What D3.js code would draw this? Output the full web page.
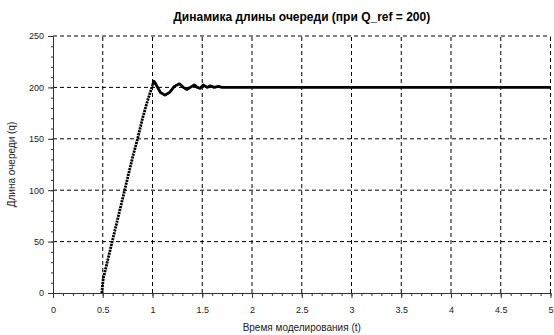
<!DOCTYPE html>
<html>
<head>
<meta charset="utf-8">
<script src="https://cdn.jsdelivr.net/npm/d3@7"></script>
<style>
  html, body { margin: 0; padding: 0; background: #fff; }
  svg { display: block; font-family: "Liberation Sans", Arial, sans-serif; }
</style>
</head>
<body>
<svg id="chart" width="554" height="335"></svg>
<script>
// Queue length q over simulation time t
const timeValues = [0.49, 0.505, 0.6, 0.7, 0.8, 0.85, 0.9, 0.95, 0.98, 1.0, 1.015, 1.04, 1.08, 1.125, 1.17, 1.22, 1.27, 1.31, 1.345, 1.38, 1.42, 1.45, 1.48, 1.51, 1.55, 1.58, 1.62, 1.66, 1.7, 5.0];
const queueValues = [0, 14, 52, 92, 132, 150, 170, 187, 196, 202, 206, 202, 195, 192.5, 195, 201, 203.5, 200, 198, 200, 202.5, 200, 199, 202.3, 200, 201.5, 200, 201, 200, 200];

const xTicks = [0, 0.5, 1, 1.5, 2, 2.5, 3, 3.5, 4, 4.5, 5];
const yTicks = [0, 50, 100, 150, 200, 250];
const titleText = "Динамика длины очереди (при Q_ref = 200)";
const xLabel = "Время моделирования (t)";
const yLabel = "Длина очереди (q)";

const svg = d3.select("#chart");
const plotLeft = 53, plotRight = 550.5, plotTop = 36, plotBottom = 293;

const x = d3.scaleLinear().domain([0, 5]).range([plotLeft, plotRight]);
const y = d3.scaleLinear().domain([0, 250]).range([plotBottom, plotTop]);

// Dashed grid
const grid = svg.append("g").attr("stroke", "#000").attr("stroke-width", 1)
  .attr("stroke-dasharray", "4,3").attr("fill", "none");
xTicks.filter(d => d > 0).forEach(d => {
  grid.append("line").attr("x1", x(d)).attr("x2", x(d)).attr("y1", y(0)).attr("y2", y(250));
});
yTicks.filter(d => d > 0).forEach(d => {
  grid.append("line").attr("x1", x(0)).attr("x2", x(5)).attr("y1", y(d)).attr("y2", y(d));
});

// Axes with minor ticks
const axisColor = "#333";
const xMinor = d3.range(0, 5.0001, 0.1);
const yMinor = d3.range(0, 250.0001, 10);

const xAxisG = svg.append("g").attr("transform", `translate(0,${plotBottom})`);
xAxisG.call(d3.axisBottom(x).tickValues(xMinor).tickSize(3).tickFormat(""))
  .call(g => g.select(".domain").remove());
xAxisG.append("g").call(d3.axisBottom(x).tickValues(xTicks).tickSize(5).tickSizeOuter(0).tickPadding(9)
  .tickFormat(d => String(d)));
xAxisG.selectAll("line, path").attr("stroke", axisColor);
xAxisG.selectAll("text").attr("fill", "#222").attr("font-size", 9)
  .attr("font-family", "\"Liberation Sans\", Arial, sans-serif");

const yAxisG = svg.append("g").attr("transform", `translate(${plotLeft},0)`);
yAxisG.call(d3.axisLeft(y).tickValues(yMinor).tickSize(2).tickFormat(""))
  .call(g => g.select(".domain").remove());
yAxisG.append("g").call(d3.axisLeft(y).tickValues(yTicks).tickSize(5).tickSizeOuter(0).tickPadding(4));
yAxisG.selectAll("line, path").attr("stroke", axisColor);
yAxisG.selectAll("text").attr("fill", "#222").attr("font-size", 9)
  .attr("font-family", "\"Liberation Sans\", Arial, sans-serif");

// Queue curve: dotted rising part, solid settling part
const pts = timeValues.map((t, i) => [t, queueValues[i]]);
const line = d3.line().x(d => x(d[0])).y(d => y(d[1]));
const rampEnd = 1.0;
svg.append("path").datum(pts.filter(d => d[0] <= rampEnd))
  .attr("d", line).attr("fill", "none").attr("stroke", "#000")
  .attr("stroke-width", 2.8).attr("stroke-dasharray", "2.2,0.8");
svg.append("path").datum(pts.filter(d => d[0] >= rampEnd))
  .attr("d", line).attr("fill", "none").attr("stroke", "#000")
  .attr("stroke-width", 2.8).attr("stroke-linejoin", "round");

// Titles
svg.append("text").attr("x", (plotLeft + plotRight) / 2).attr("y", 20.5)
  .attr("text-anchor", "middle").attr("font-size", 12).attr("font-weight", "bold")
  .attr("fill", "#000").text(titleText);
svg.append("text").attr("x", (plotLeft + plotRight) / 2).attr("y", 331)
  .attr("text-anchor", "middle").attr("font-size", 10).attr("fill", "#222").text(xLabel);
svg.append("text").attr("transform", `translate(15,${(plotTop + plotBottom) / 2}) rotate(-90)`)
  .attr("text-anchor", "middle").attr("font-size", 10).attr("fill", "#222").text(yLabel);
</script>
</body>
</html>
